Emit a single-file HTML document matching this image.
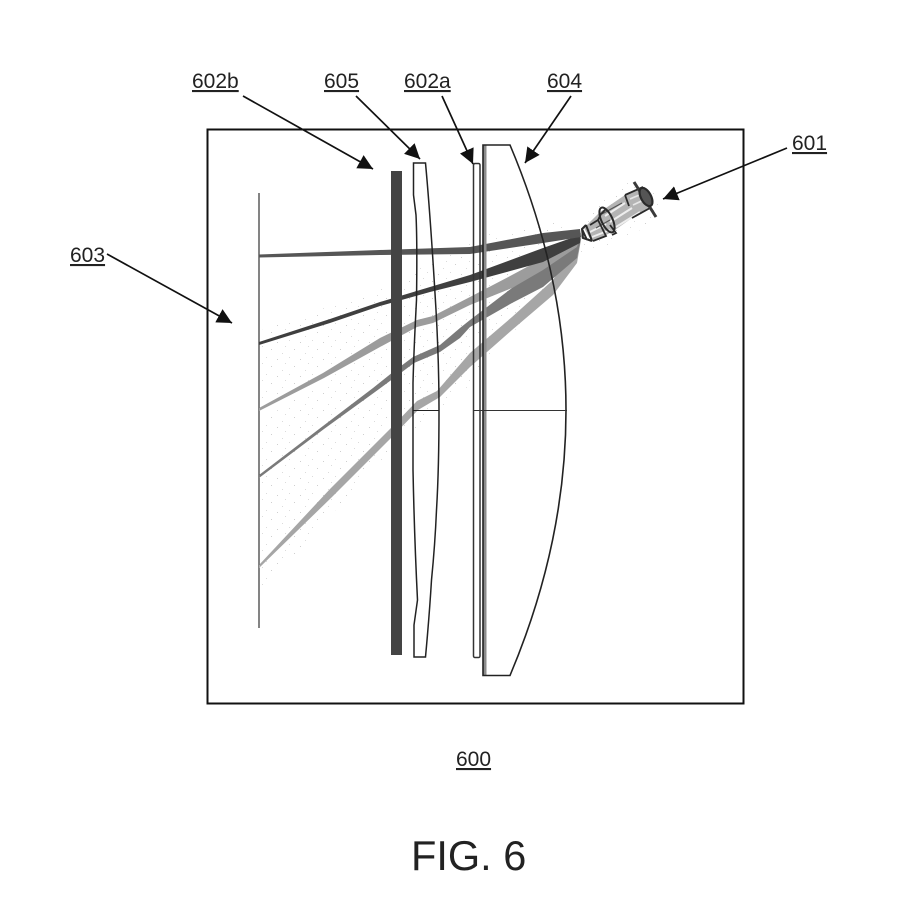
<!DOCTYPE html>
<html><head><meta charset="utf-8"><style>
html,body{margin:0;padding:0;background:#fff;width:898px;height:904px;overflow:hidden}
svg{display:block}
text{font-family:"Liberation Sans",sans-serif;fill:#222}
</style></head><body>
<svg width="898" height="904" viewBox="0 0 898 904" xmlns="http://www.w3.org/2000/svg">
<defs>
<marker id="a" markerUnits="userSpaceOnUse" markerWidth="16" markerHeight="16" refX="15" refY="8" orient="auto"><path d="M0 0.5L15 8L0 15.5Z" fill="#111"/></marker>
<pattern id="d" width="23" height="17" patternUnits="userSpaceOnUse">
<rect x="1" y="2" width="1" height="1" fill="#bbb"/><rect x="13" y="0" width="1" height="1" fill="#ccc"/><rect x="18" y="9" width="1" height="1" fill="#bbb"/><rect x="6" y="13" width="1" height="1" fill="#ccc"/><rect x="9" y="6" width="1" height="1" fill="#ccc"/>
</pattern>
</defs>
<!-- stipple around the beams -->
<g fill="url(#d)" opacity=".7">
<polygon points="262,330 390,285 480,235 560,222 600,240 570,275 480,335 390,350 262,400"/>
<polygon points="262,420 390,340 480,300 570,265 500,345 400,395 262,500"/>
<polygon points="262,500 390,395 470,350 540,300 470,385 400,440 262,590"/>
<polygon points="585,215 625,180 665,190 650,225 600,250"/>
</g>
<!-- frame -->
<rect x="207.5" y="129.5" width="536" height="574" fill="none" stroke="#111" stroke-width="2"/>
<!-- screen -->
<path d="M259 193V628" stroke="#333" stroke-width="1.2" fill="none"/>
<!-- beams -->
<polygon points="259,565 330,489 390,429 417,401 437,391 470,353 512,317 553,280 582,234 577,263 553,295 512,330 470,367 440,397 418,410 392,437 332,497 259,568" fill="#a6a6a6"/>
<polygon points="259,408 323,373 380,338 417,320 433,316 470,297 512,275 553,253 581,233 577,253 553,267 512,288 470,305 433,323 417,327 380,347 324,378 259,411" fill="#9c9c9c"/>
<polygon points="259,475 323,426 373,388 393,372 413,357 440,345 460,328 470,320 512,288 543,270 577,247 582,234 577,258 543,287 512,303 470,327 460,338 440,352 414,363 394,378 375,392 324,429 259,478" fill="#7a7a7a"/>
<polygon points="259,342 330,319 380,302 430,287 470,275 543,248 580,235 580,243 543,262 470,282 430,292 380,306 330,323 259,345" fill="#3f3f3f"/>
<polygon points="259,254.5 380,250 470,247 543,233 580,229 581,237 543,243 470,254 380,255 259,257.5" fill="#565656"/>
<!-- dark plate 602b -->
<rect x="391" y="171" width="11" height="484" fill="#444"/>
<!-- lens 605 -->
<path d="M413.5 163H425.5C428 190 431 225 436 310C438 345 439 385 439 410C439 445 438 485 436.5 510C435 545 433 565 431.5 580C430 605 428 630 425.5 657H414V625L417.5 600C416 570 414 520 413 470C412.8 440 413 410 413 383C414 345 415.5 320 416.5 300C417 265 417 235 416 215L413.5 195Z" fill="none" stroke="#222" stroke-width="1.5"/>
<path d="M413 410.5H439" stroke="#222" stroke-width="1"/>
<!-- slab 602a -->
<rect x="473.5" y="163.5" width="6.5" height="494" rx="1.5" fill="none" stroke="#333" stroke-width="1.5"/>
<!-- lens 604 -->
<rect x="483" y="145" width="3.5" height="530" fill="#8c8c8c"/>
<path d="M483 145H510Q622 410 510 675.5H483Z" fill="none" stroke="#222" stroke-width="1.6"/>
<path d="M473 410.5H567" stroke="#333" stroke-width="1"/>
<!-- projector 601 -->
<g fill="none" stroke="#2a2a2a" stroke-width="1.8">
<polygon points="584,228 600,212 625,195 643,188 653,205 632,218 612,232 592,242" fill="#b4b4b4" stroke="none"/>
<path d="M590 232L606 224M592 237L610 230M605 216L625 203M610 222L632 208M616 227L640 212" stroke="#eee" stroke-width="2"/>
<path d="M630 199L644 193M633 205L648 198" stroke="#e6e6e6" stroke-width="1.6"/>
<path d="M596 228L610 220M602 214L622 203" stroke="#555" stroke-width="1.2"/>
<path d="M586 225L592 241M582 229L587 240M592 241L583 238L582 229L586 225" stroke-width="2"/>
<path d="M590 225L598 220L606 236L593 241"/>
<path d="M598 220L601 214L606 209"/>
<ellipse cx="607" cy="220" rx="5.5" ry="13.5" transform="rotate(-25 607 220)" stroke-width="2"/>
<path d="M610 225L616 233L612 235"/>
<path d="M625 195L643 187M625 195L629 206M632 218L650 208"/>
<path d="M634 182L656 217" stroke-width="3" stroke="#3a3a3a"/>
<ellipse cx="646" cy="197" rx="5" ry="10" transform="rotate(-28 646 197)" stroke-width="2.2" fill="#555"/>
</g>
<!-- arrows -->
<g stroke="#111" stroke-width="1.7" fill="none">
<line x1="243" y1="96" x2="373" y2="169" marker-end="url(#a)"/>
<line x1="356" y1="96" x2="420" y2="159" marker-end="url(#a)"/>
<line x1="442" y1="96" x2="473" y2="164" marker-end="url(#a)"/>
<line x1="571" y1="96" x2="525" y2="163" marker-end="url(#a)"/>
<line x1="787" y1="148" x2="663" y2="199" marker-end="url(#a)"/>
<line x1="107" y1="254" x2="232" y2="323" marker-end="url(#a)"/>
</g>
<!-- labels -->
<g font-size="21">
<text x="192" y="88" text-decoration="underline">602b</text>
<text x="324" y="88" text-decoration="underline">605</text>
<text x="404" y="88" text-decoration="underline">602a</text>
<text x="547" y="88" text-decoration="underline">604</text>
<text x="792" y="150" text-decoration="underline">601</text>
<text x="70" y="262" text-decoration="underline">603</text>
<text x="456" y="766" text-decoration="underline">600</text>
</g>
<text x="411" y="870" font-size="41.5">FIG. 6</text>
</svg>
</body></html>
